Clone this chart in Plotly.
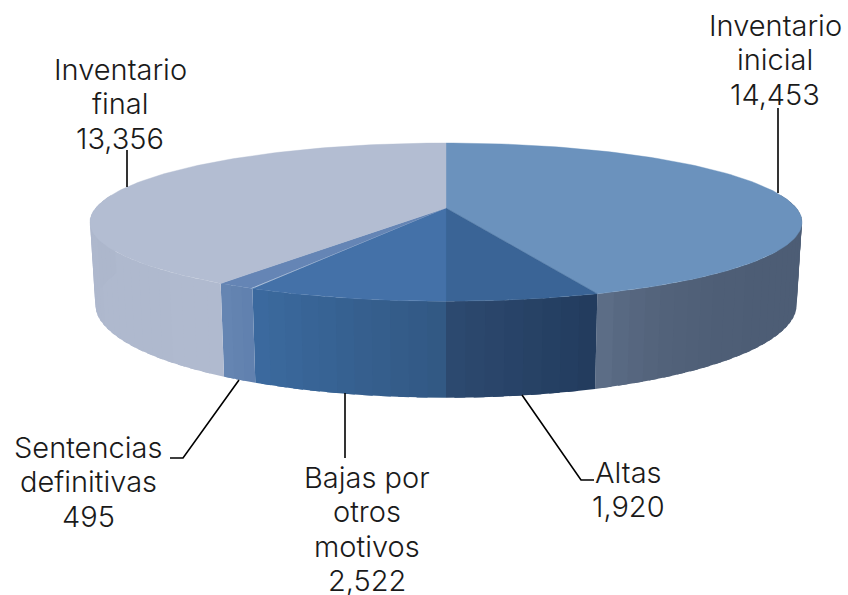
import numpy as np
import plotly.graph_objects as go

# Data
labels = ["Inventario<br>inicial", "Altas", "Bajas por<br>otros<br>motivos", "Sentencias<br>definitivas", "Inventario<br>final"]
values = [14453, 1920, 2522, 495, 13356]
value_text = ["14,453", "1,920", "2,522", "495", "13,356"]

# Styles
top_colors = ["#6b92bd", "#3a6496", "#4471a8", "#6585b5", "#b3bdd2"]
wall_start = ["#4d5d75", "#223b5d", "#325883", "#6080ae", "#b0bacf"]
wall_end = ["#5e6f88", "#2d4a70", "#3b6a9f", "#6686b3", "#adb7cc"]
wall_power = [8, 1, 1, 1, 1]
label_xy = [(775, 25), (628, 472), (367, 477), (88, 447), (120, 69)]
LINE_STEP = 34.6
leaders = [
    [(778, 108), (778, 193)],
    [(522, 395), (581, 480), (594, 480)],
    [(345, 393), (345, 458)],
    [(239, 380), (183, 458), (170, 458)],
    [(127, 150), (127, 187)],
]

# Projection of the disc (perspective view)
CX, CY, R, A, F, H, BOTTOM_X = 446, 208, 350.3, 76.6, 5.6, 80, 0.985


def project(theta, drop=False):
    t = np.radians(theta)
    s = F / (F + np.cos(t))
    x = R * np.sin(t) * s
    y = -A * np.cos(t) * s
    if drop:
        return CX + x * BOTTOM_X, CY + y * 0.99 + H * s
    return CX + x, CY + y


def hex_rgb(c):
    return np.array([int(c[i:i + 2], 16) for i in (1, 3, 5)], dtype=float)


def mix(a, b, f):
    v = hex_rgb(a) * (1 - f) + hex_rgb(b) * f
    return "rgb(%d,%d,%d)" % tuple(v.round())


fig = go.Figure()
angles = np.cumsum([0] + values) / sum(values) * 360


def poly(xs, ys, color, lw=0.0):
    fig.add_trace(go.Scatter(x=xs, y=ys, mode="lines", fill="toself", fillcolor=color,
                             line=dict(color=color, width=lw), hoverinfo="skip", showlegend=False))


# Walls: each band overlaps the next one so no seams show
VIS_A, VIS_B = 80, 280
for i in range(len(values)):
    a0, a1 = max(angles[i], VIS_A), min(angles[i + 1], VIS_B)
    if a1 <= a0:
        continue
    n = max(3, int((a1 - a0) / 2.5))
    edges = np.linspace(a0, a1, n + 1)
    for k in range(n):
        stop = min(edges[k + 1] + 1.5, a1)
        th = np.linspace(edges[k], stop, 6)
        xt, yt = project(th)
        xb, yb = project(th, True)
        f = ((k + 0.5) / n) ** wall_power[i]
        poly(list(xt) + list(xb[::-1]) + [xt[0]], list(yt) + list(yb[::-1]) + [yt[0]],
             mix(wall_start[i], wall_end[i], f))

# Top sectors
for i in range(len(values)):
    th = np.linspace(angles[i], angles[i + 1], 120)
    x, y = project(th)
    poly([CX] + list(x) + [CX], [CY] + list(y) + [CY], top_colors[i], 0.4)

# Leader lines
for pts in leaders:
    fig.add_trace(go.Scatter(x=[p[0] for p in pts], y=[p[1] for p in pts], mode="lines",
                             line=dict(color="#000000", width=1.6), hoverinfo="skip", showlegend=False))

# Labels, one annotation per text line
for lab, val, (x, y) in zip(labels, value_text, label_xy):
    for j, line in enumerate(lab.split("<br>") + [val]):
        fig.add_annotation(x=x, y=y + j * LINE_STEP, xref="x", yref="y", text=line, showarrow=False,
                           xanchor="center", yanchor="middle", align="center",
                           font=dict(family="Inter", size=29, color="#1a1a1a", weight=300))

fig.update_layout(width=848, height=595, margin=dict(l=0, r=0, t=0, b=0),
                  paper_bgcolor="white", plot_bgcolor="white", showlegend=False,
                  xaxis=dict(range=[0, 848], visible=False, fixedrange=True),
                  yaxis=dict(range=[595, 0], visible=False, fixedrange=True))
fig.write_html("out.html", config={"displayModeBar": False},
               post_script="document.body.style.margin='0';document.body.style.overflow='hidden';")
